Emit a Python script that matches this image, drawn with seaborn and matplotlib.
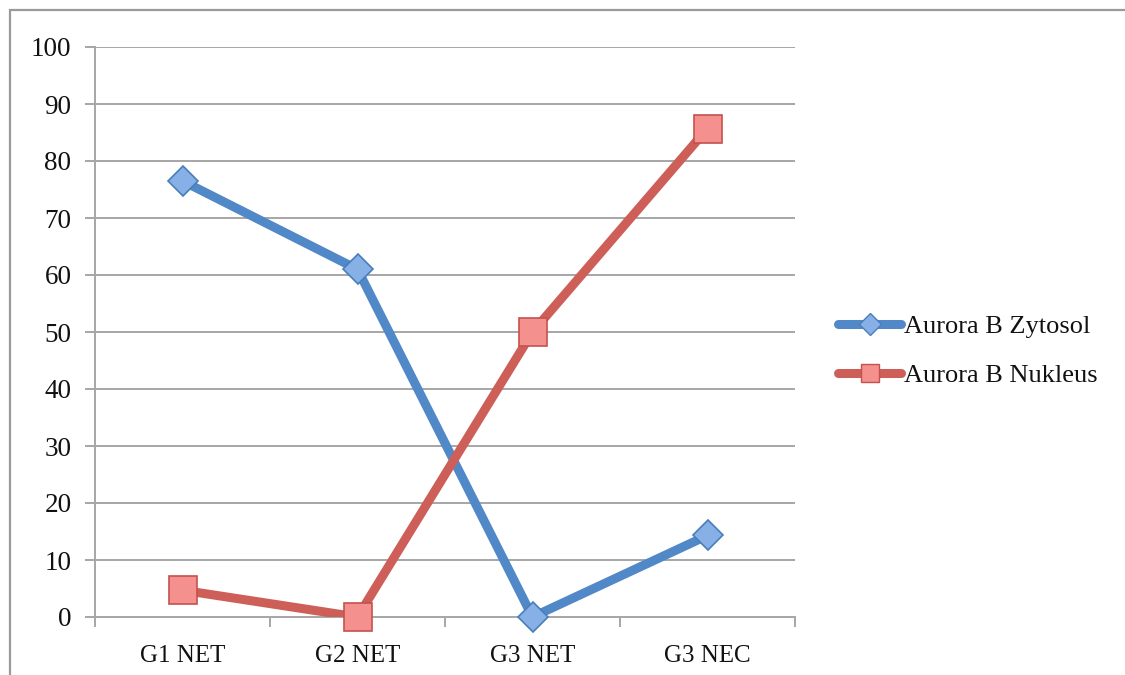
import matplotlib
matplotlib.use("Agg")
import matplotlib.pyplot as plt
from matplotlib.lines import Line2D
from matplotlib.patches import Rectangle
import seaborn as sns
import pandas as pd

categories = ["G1 NET", "G2 NET", "G3 NET", "G3 NEC"]
zytosol = [76.5, 61.0, 0.0, 14.3]
nukleus = [4.7, 0.0, 50.0, 85.7]
series_names = ["Aurora B Zytosol", "Aurora B Nukleus"]

df = pd.DataFrame({
    "Gruppe": categories * 2,
    "Wert": zytosol + nukleus,
    "Serie": [series_names[0]] * 4 + [series_names[1]] * 4,
})

sns.set_theme(style="white")
plt.rcParams["font.family"] = ["Liberation Serif", "DejaVu Serif"]

line_colors = {series_names[0]: "#5188C7", series_names[1]: "#CD5F58"}
face_colors = {series_names[0]: "#86B0E6", series_names[1]: "#F4908D"}
edge_colors = {series_names[0]: "#4A7EBB", series_names[1]: "#C4524D"}
marker_shapes = {series_names[0]: "D", series_names[1]: "s"}
marker_sizes = {series_names[0]: 15.5, series_names[1]: 19.5}

fig = plt.figure(figsize=(11.25, 6.75), dpi=100)
ax = fig.add_axes([95 / 1125, 1 - 617 / 675, 700 / 1125, 570 / 675])

grid_col = "#A6A6A6"
for s in series_names:
    sub = df[df["Serie"] == s]
    sns.lineplot(data=sub, x="Gruppe", y="Wert", ax=ax, color=line_colors[s],
                 linewidth=6.5, sort=False, legend=False, zorder=3)
    ax.plot(sub["Gruppe"], sub["Wert"], linestyle="none",
            marker=marker_shapes[s], markersize=marker_sizes[s],
            markerfacecolor=face_colors[s], markeredgecolor=edge_colors[s],
            markeredgewidth=1.2, zorder=4, clip_on=False)

ax.set_xlim(-0.5, 3.5)
ax.set_ylim(0, 100)
ax.set_yticks(range(0, 101, 10))
ax.set_xticks(range(len(categories)))
ax.set_xticklabels(categories)
ax.set_xlabel("")
ax.set_ylabel("")

# horizontal gridlines
for v in range(10, 101, 10):
    ax.axhline(v, color=grid_col, linewidth=1.4, zorder=1)

for side in ["top", "right"]:
    ax.spines[side].set_visible(False)
ax.spines["left"].set_color(grid_col)
ax.spines["left"].set_linewidth(1.4)
ax.spines["bottom"].set_color(grid_col)
ax.spines["bottom"].set_linewidth(1.4)

ax.tick_params(axis="y", which="both", length=7, width=1.4, color=grid_col,
               labelsize=19.5, pad=10, left=True)
ax.tick_params(axis="x", which="major", length=0, labelsize=18, pad=20)
# category boundary ticks
ax.set_xticks([i - 0.5 for i in range(len(categories) + 1)], minor=True)
ax.tick_params(axis="x", which="minor", length=7, width=1.4, color=grid_col,
               bottom=True)
for lab in ax.get_yticklabels() + ax.get_xticklabels():
    lab.set_color("#111111")

handles = [
    Line2D([0], [0], color=line_colors[s], linewidth=6.5, solid_capstyle="round",
           marker=marker_shapes[s], markersize=marker_sizes[s] * 0.7,
           markerfacecolor=face_colors[s], markeredgecolor=edge_colors[s])
    for s in series_names
]
leg = fig.legend(handles, series_names, loc="center left",
                 bbox_to_anchor=(838 / 1125, 1 - 351 / 675), frameon=False,
                 fontsize=19, handlelength=2.4, handletextpad=0.1,
                 labelspacing=0.95, borderpad=0, borderaxespad=0)
for t in leg.get_texts():
    t.set_color("#111111")

# outer chart frame
fig.patches.append(Rectangle((10 / 1125, -0.05), 1.2, 1 - 10 / 675 + 0.05,
                             transform=fig.transFigure, fill=False,
                             edgecolor="#9A9A9A", linewidth=1.6, zorder=0))

fig.savefig("out.png", dpi=100)
